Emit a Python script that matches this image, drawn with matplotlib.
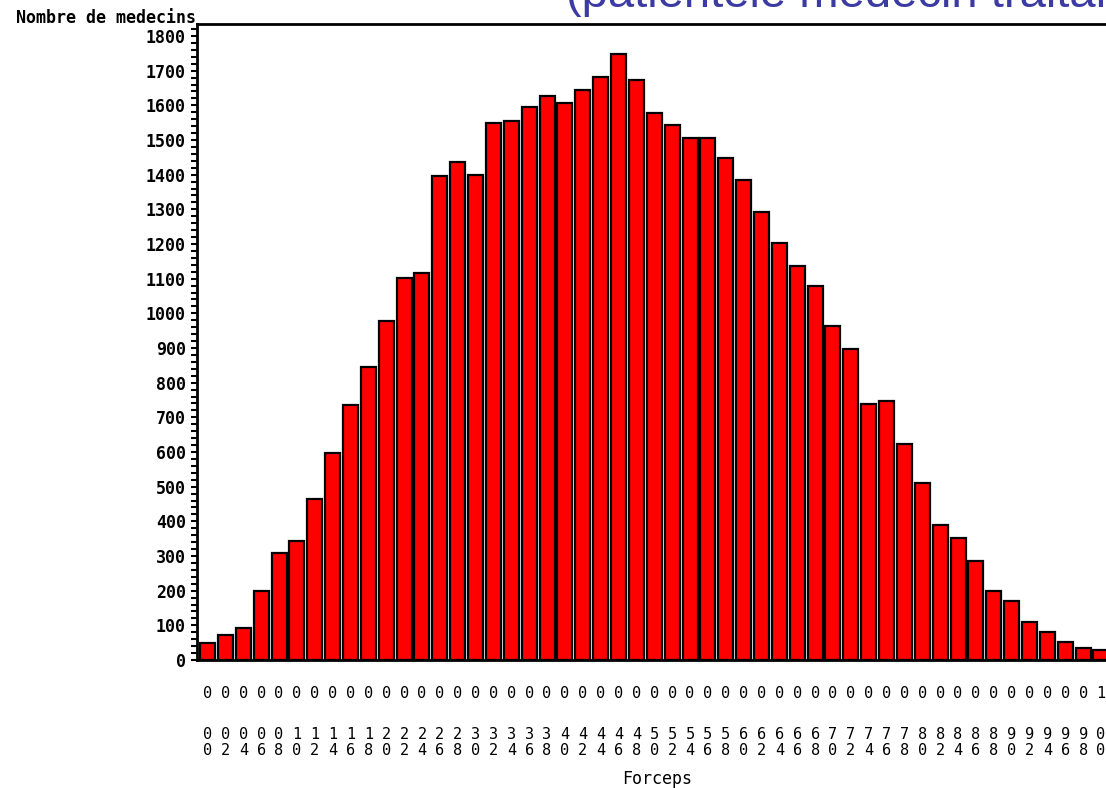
import numpy as np
from matplotlib import pyplot as plt
from matplotlib.ticker import MultipleLocator, FixedLocator

# classes en abscisse (0.00 -> 1.00)
classes = ["0.00", "0.02", "0.04", "0.06", "0.08", "0.10", "0.12", "0.14", "0.16", "0.18",
           "0.20", "0.22", "0.24", "0.26", "0.28", "0.30", "0.32", "0.34", "0.36", "0.38",
           "0.40", "0.42", "0.44", "0.46", "0.48", "0.50", "0.52", "0.54", "0.56", "0.58",
           "0.60", "0.62", "0.64", "0.66", "0.68", "0.70", "0.72", "0.74", "0.76", "0.78",
           "0.80", "0.82", "0.84", "0.86", "0.88", "0.90", "0.92", "0.94", "0.96", "0.98",
           "1.00"]

# nombre de medecins par classe
nb_medecins = [50, 73, 93, 200, 310, 344, 465, 598, 735, 845,
               978, 1102, 1116, 1396, 1436, 1399, 1549, 1555, 1595, 1628,
               1607, 1644, 1682, 1748, 1673, 1578, 1543, 1506, 1506, 1448,
               1384, 1292, 1203, 1136, 1080, 963, 897, 738, 747, 623,
               511, 389, 352, 286, 199, 170, 110, 81, 52, 35,
               29]

W, H = 1106, 788
fig = plt.figure(figsize=(W / 100, H / 100), dpi=100)
ax = fig.add_axes([197 / W, 1 - 660 / H, 1 - 197 / W, (660 - 24) / H])

x = np.arange(len(classes))
ax.bar(x, nb_medecins, width=0.84, color='#ff0000', edgecolor='black', linewidth=1.6)

ax.set_xlim(-0.59, 50.28)
ax.set_ylim(0, 1834.6)

mono = 'DejaVu Sans Mono'

# axe y
ax.yaxis.set_minor_locator(MultipleLocator(20))
ax.tick_params(axis='y', which='both', direction='out', length=4, width=1.5, pad=4)
ax.set_yticks(np.arange(0, 1801, 100))
ax.set_yticklabels([str(v) for v in range(0, 1801, 100)], fontfamily=mono,
                   fontsize=12, fontweight='bold')

# axe x : libelles ecrits verticalement (unite en haut, decimales en dessous)
ax.xaxis.remove_overlapping_locs = False
ax.set_xticks(x)
ax.set_xticklabels([c[0] for c in classes], fontfamily=mono, fontsize=11)
ax.xaxis.set_minor_locator(FixedLocator(x))
ax.set_xticklabels([c[2] + "\n" + c[3] for c in classes], minor=True,
                   fontfamily=mono, fontsize=11, linespacing=1.1)
ax.tick_params(axis='x', which='major', length=0, pad=19)
ax.tick_params(axis='x', which='minor', length=0, pad=48)

for s in ['top', 'left', 'bottom']:
    ax.spines[s].set_linewidth(2)
ax.spines['right'].set_visible(False)

fig.text(196 / W, 1 - 23 / H, "Nombre de medecins", ha='right', va='baseline',
         fontfamily=mono, fontsize=12, fontweight='bold')
fig.text(657 / W, 1 - 784 / H, "Forceps", ha='center', va='baseline',
         fontfamily=mono, fontsize=12)

# titre de la diapositive, coupe en haut comme sur l'original
fig.text(566 / W, 1 - 7 / H, "(patientèle médecin traitant)", ha='left', va='baseline',
         fontfamily='Liberation Sans', fontsize=34, color='#3b3ba3')

fig.savefig('out.png', dpi=100)
